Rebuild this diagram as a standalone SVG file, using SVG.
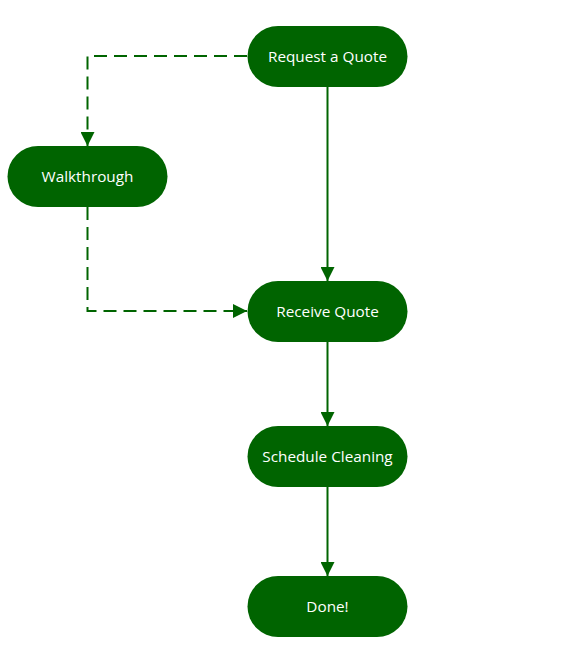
<svg xmlns="http://www.w3.org/2000/svg" width="573" height="651" viewBox="0 0 573 651">
<style>
.node rect{fill:#006400;}
.node text{fill:#ffffff;font-family:"Open Sans","Liberation Sans",sans-serif;font-size:15.3px;text-anchor:middle;dominant-baseline:central;}
.edge{stroke:#006400;stroke-width:2;fill:none;}
.dash{stroke-dasharray:13,7;}
</style>
<defs>
<marker id="arr" markerWidth="14" markerHeight="14" refX="14" refY="7" orient="auto" markerUnits="userSpaceOnUse">
<path d="M0,0 L14,7 L0,14 Z" fill="#006400"/>
</marker>
</defs>
<rect width="573" height="651" fill="#ffffff"/>
<g id="connectors">
<path class="edge" d="M327.5,87 L327.5,281" marker-end="url(#arr)"/>
<path class="edge" d="M327.5,342 L327.5,426" marker-end="url(#arr)"/>
<path class="edge" d="M327.5,487 L327.5,576" marker-end="url(#arr)"/>
<path class="edge dash" d="M247,56 L87.5,56 L87.5,146" marker-end="url(#arr)"/>
<path class="edge dash" d="M87.5,207 L87.5,311 L247,311" marker-end="url(#arr)"/>
</g>
<g id="request" class="node"><rect x="247.5" y="26" width="160" height="61" rx="30.5"/><text x="327.5" y="55.5">Request a Quote</text></g>
<g id="walkthrough" class="node"><rect x="7.5" y="146" width="160" height="61" rx="30.5"/><text x="87.5" y="175.5">Walkthrough</text></g>
<g id="receive" class="node"><rect x="247.5" y="281" width="160" height="61" rx="30.5"/><text x="327.5" y="310.5">Receive Quote</text></g>
<g id="schedule" class="node"><rect x="247.5" y="426" width="160" height="61" rx="30.5"/><text x="327.5" y="455.5">Schedule Cleaning</text></g>
<g id="done" class="node"><rect x="247.5" y="576" width="160" height="61" rx="30.5"/><text x="327.5" y="605.5">Done!</text></g>
</svg>
